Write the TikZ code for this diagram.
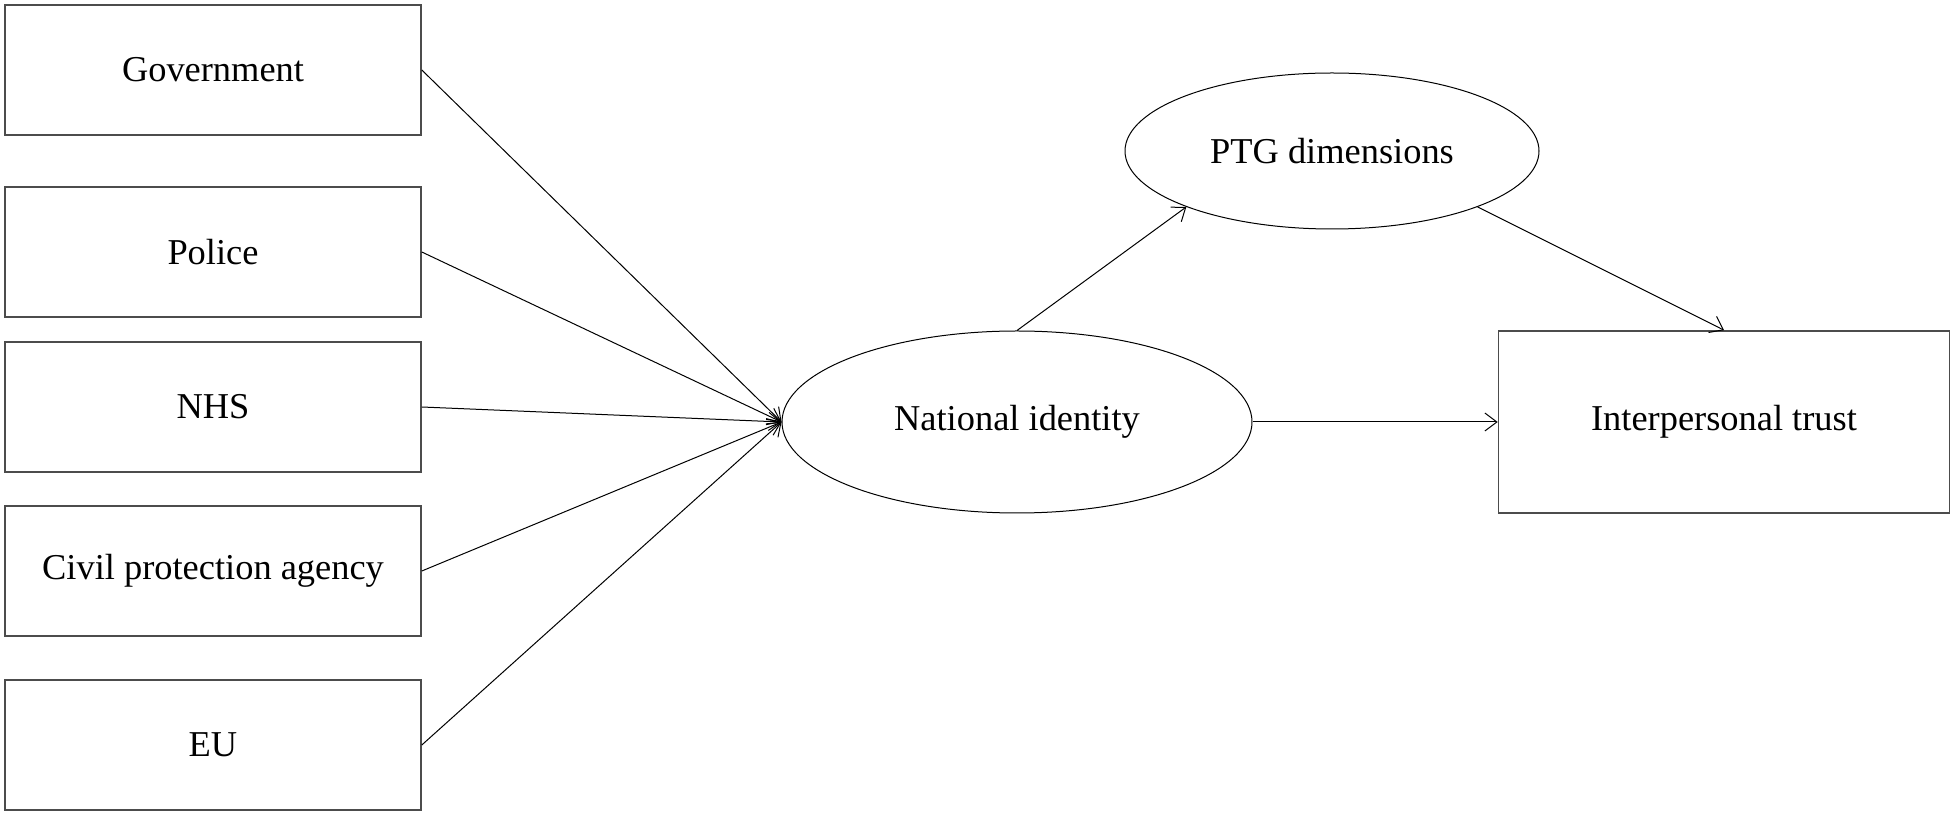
\documentclass[tikz,border=0pt]{standalone}
\usepackage{fontspec}
\setmainfont{Liberation Serif}
\usetikzlibrary{arrows.meta,shapes.geometric}
\tikzset{
  box/.style={draw=black!70, line width=0.8pt, minimum width=208pt, minimum height=65pt, inner sep=0pt, font=\fontsize{18.2}{22}\selectfont},
  oval/.style={draw, ellipse, line width=0.5pt, inner sep=0pt, font=\fontsize{18.2}{22}\selectfont},
  link/.style={line width=0.5pt, -{Straight Barb[length=6pt,width=9pt]}}
}
\begin{document}
\begin{tikzpicture}[x=0.5pt, y=-0.5pt]
\useasboundingbox (0,0) rectangle (1955,817);
\node[box] (gov) at (213,70) {Government};
\node[box] (pol) at (213,252) {Police};
\node[box] (nhs) at (213,407) {NHS};
\node[box] (civ) at (213,571) {Civil protection agency};
\node[box] (eu) at (213,745) {EU};
\node[oval, minimum width=235pt, minimum height=91pt] (nat) at (1017,422) {National identity};
\node[oval, minimum width=207pt, minimum height=78pt] (ptg) at (1332,151) {PTG dimensions};
\node[box, minimum width=225.5pt, minimum height=91pt] (trust) at (1724,422) {Interpersonal trust};
\draw[link] (gov.east) -- (nat.west);
\draw[link] (pol.east) -- (nat.west);
\draw[link] (nhs.east) -- (nat.west);
\draw[link] (civ.east) -- (nat.west);
\draw[link] (eu.east) -- (nat.west);
\draw[link] (nat.north) -- (ptg.201);
\draw[link] (ptg.339) -- (trust.north);
\draw[link] (nat.east) -- (trust.west);
\end{tikzpicture}
\end{document}
